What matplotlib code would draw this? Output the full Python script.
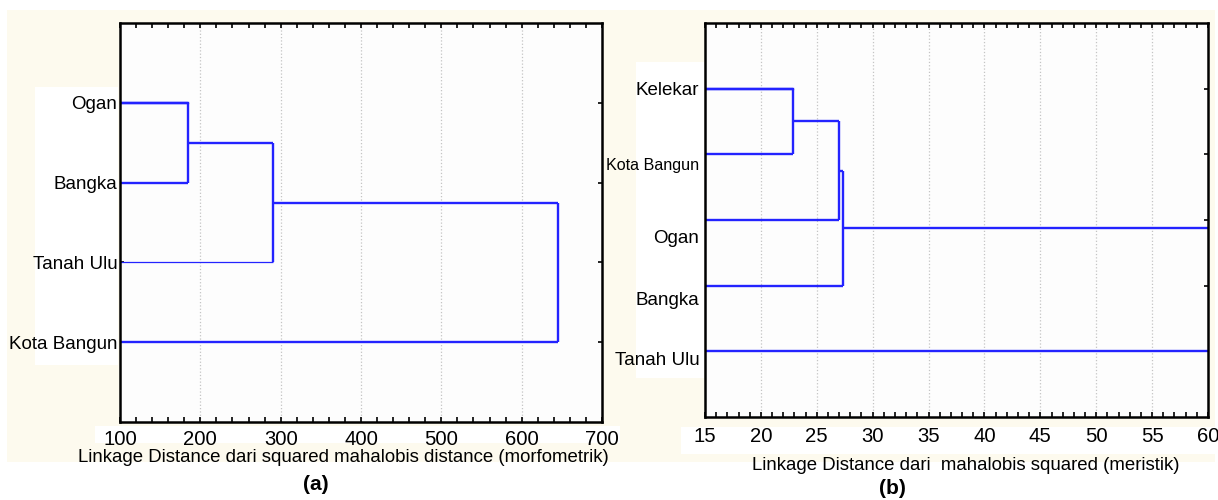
# -*- coding: utf-8 -*-

import numpy as np
import matplotlib
matplotlib.use('Agg')
import matplotlib.pyplot as plt
from matplotlib.patches import Rectangle
from matplotlib.ticker import MultipleLocator
from matplotlib.transforms import ScaledTranslation

plt.rcParams['font.family'] = ['Liberation Sans', 'DejaVu Sans']

# (a) morfometrik
leaves_a = ['Ogan', 'Bangka', 'Tanah Ulu', 'Kota Bangun']
merge_a = [185, 290, 645]          # jarak penggabungan berurutan
ticks_a = [100, 200, 300, 400, 500, 600, 700]

# (b) meristik
leaves_b = ['Kelekar', 'Kota Bangun', 'Ogan', 'Bangka', 'Tanah Ulu']
merge_b = [22.9, 26.95, 27.35, 70]  # yang terakhir di luar sumbu
ticks_b = [15, 20, 25, 30, 35, 40, 45, 50, 55, 60]

W, H = 1218, 500
BLUE = '#2323ff'
CREAM = '#fdfaee'


def box(x0, y0, x1, y1):
    """piksel -> koordinat figure [l, b, w, h]"""
    return [x0 / W, 1 - y1 / H, (x1 - x0) / W, (y1 - y0) / H]


def dendro(ax, leaves, merges, thin=()):
    """dendrogram berantai: tiap langkah menggabungkan klaster dengan daun berikutnya"""
    pos = np.arange(1, len(leaves) + 1)
    cx, cy = 0, pos[0]
    ax.plot([0, merges[0]], [cy, cy], color=BLUE, lw=1.7)
    for i, h in enumerate(merges):
        ly = pos[i + 1]
        lw = 0.9 if leaves[i + 1] in thin else 1.7
        ax.plot([cx, h], [cy, cy], color=BLUE, lw=1.7, solid_capstyle='butt')
        ax.plot([0, h], [ly, ly], color=BLUE, lw=lw, solid_capstyle='butt')
        ax.plot([h, h], [cy, ly], color=BLUE, lw=1.7, solid_capstyle='butt')
        cx, cy = h, (cy + ly) / 2
    ax.set_ylim(len(leaves) + 1, 0)
    ax.set_yticks(pos)
    ax.set_yticklabels(leaves)


def style(ax, major, minor, pad):
    ax.set_facecolor('#fdfdfd')
    ax.set_xlim(major[0], major[-1])
    ax.set_xticks(major)
    ax.xaxis.set_minor_locator(MultipleLocator(minor))
    for m in major[1:-1]:
        ax.axvline(m, color='#c4c4c4', lw=0.9, ls=':', zorder=0)
    for s in ax.spines.values():
        s.set_linewidth(1.8)
    ax.tick_params(axis='x', which='both', direction='in', top=True, length=3.5,
                   width=1.2, labelsize=14.6, pad=pad)
    ax.tick_params(axis='y', direction='in', right=True, length=3, width=1.2,
                   labelsize=13.5, pad=2)


fig = plt.figure(figsize=(W / 100, H / 100), dpi=100)
fig.patch.set_facecolor('white')

# latar krem dan kotak putih di belakang label
for (x0, y0, x1, y1, c) in [(7, 10, 1215, 462, CREAM),
                            (35, 87, 118, 365, 'white'),
                            (95, 426, 620, 443, 'white'),
                            (636, 62, 704, 378, 'white'),
                            (681, 427, 1218, 454, 'white')]:
    l, b, w, h = box(x0, y0, x1, y1)
    fig.patches.append(Rectangle((l, b), w, h, transform=fig.transFigure,
                                 facecolor=c, edgecolor='none', zorder=-5))

ax1 = fig.add_axes(box(120, 23, 602, 422))
dendro(ax1, leaves_a, merge_a, thin=('Tanah Ulu',))
style(ax1, ticks_a, 20, 5.5)

ax2 = fig.add_axes(box(705, 23, 1208, 417))
dendro(ax2, leaves_b, merge_b)
style(ax2, ticks_b, 1, 7)
ax2.tick_params(axis='y', pad=4)

# label (b) tidak tepat sejajar dengan daunnya
shift_b = [0, 10, 17, 13, 7]
for lbl, dy in zip(ax2.get_yticklabels(), shift_b):
    lbl.set_transform(lbl.get_transform() +
                      ScaledTranslation(0, -dy / 100, fig.dpi_scale_trans))
    if lbl.get_text() == 'Kota Bangun':
        lbl.set_fontsize(11.6)

fig.text(343 / W, 1 - 458 / H,
         'Linkage Distance dari squared mahalobis distance (morfometrik)',
         ha='center', va='center', fontsize=13.4)
fig.text(966 / W, 1 - 466 / H,
         'Linkage Distance dari  mahalobis squared (meristik)',
         ha='center', va='center', fontsize=13.4)
fig.text(316 / W, 1 - 485 / H, '(a)', ha='center', va='center',
         fontsize=15, fontweight='bold')
fig.text(892 / W, 1 - 488 / H, '(b)', ha='center', va='center',
         fontsize=15, fontweight='bold')

fig.savefig('out.png', dpi=100, facecolor=fig.get_facecolor())
